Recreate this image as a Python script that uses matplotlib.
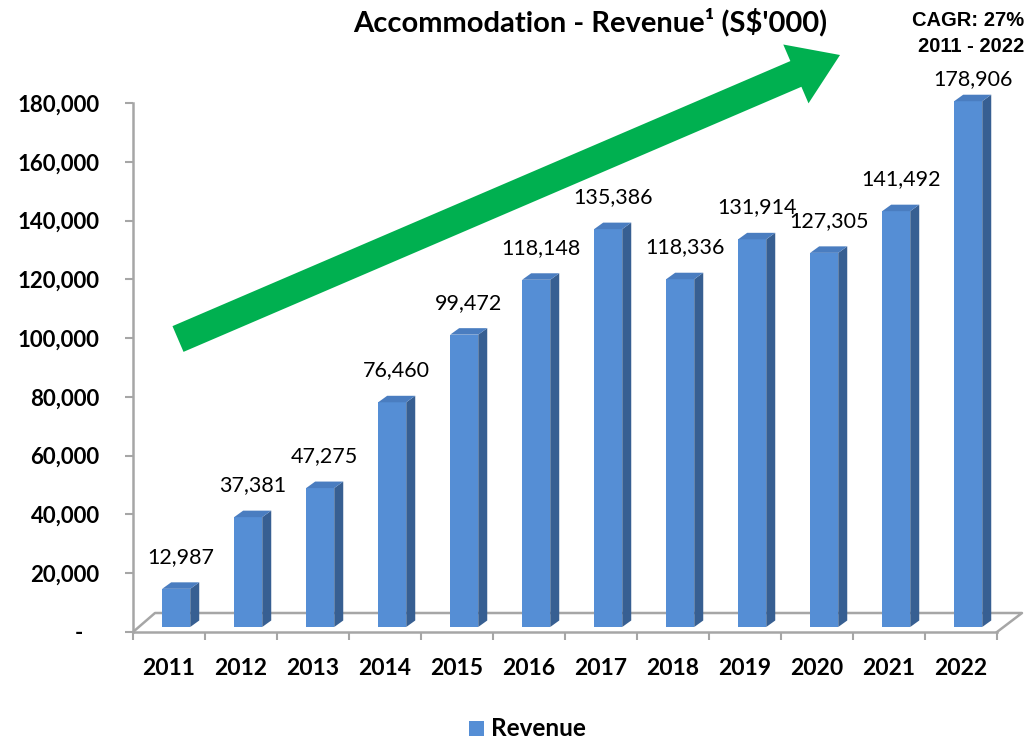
import numpy as np
import matplotlib.pyplot as plt
from matplotlib.patches import Polygon

years = ['2011', '2012', '2013', '2014', '2015', '2016',
         '2017', '2018', '2019', '2020', '2021', '2022']
revenue = [12987, 37381, 47275, 76460, 99472, 118148,
           135386, 118336, 131914, 127305, 141492, 178906]
yticks = [0, 20000, 40000, 60000, 80000, 100000, 120000, 140000, 160000, 180000]
ytick_labels = ['-   '] + ['{:,}'.format(v) for v in yticks[1:]]

plt.rcParams['font.family'] = ['Lato', 'DejaVu Sans']

W, H = 1026, 742
fig = plt.figure(figsize=(W / 100, H / 100), dpi=100)

# main axes placed in pixel terms
left, bottom, right, top = 133, 632, 1026, 103
ax = fig.add_axes([left / W, (H - bottom) / H, (right - left) / W, (bottom - top) / H])
cat_px = 72.0
ax.set_xlim(-0.5, -0.5 + (right - left) / cat_px)
ax.set_ylim(0, 180000)
ypp = 180000 / (bottom - top)  # data units per pixel

grey = '#A6A6A6'
for s in ['top', 'right']:
    ax.spines[s].set_visible(False)
ax.spines['left'].set_color(grey)
ax.spines['left'].set_linewidth(1.8)
ax.spines['bottom'].set_color(grey)
ax.spines['bottom'].set_linewidth(1.8)
ax.spines['bottom'].set_bounds(-0.5, len(years) - 0.5)

ax.set_yticks(yticks)
ax.set_yticklabels(ytick_labels, fontsize=16, fontweight='bold')
ax.tick_params(axis='y', length=6, width=1.5, color=grey, pad=18)

x = np.arange(len(years))
ax.set_xticks(x)
ax.set_xticklabels(years, fontsize=16.5, fontweight='bold')
ax.tick_params(axis='x', which='major', length=0, pad=19)
ax.set_xticks(np.arange(len(years) + 1) - 0.5, minor=True)
ax.tick_params(axis='x', which='minor', length=6, width=1.5, color=grey)

# floor
n = len(years)
back_y = 19 * ypp
bl, br = -0.5 + 22 / cat_px, n - 0.5 + 25 / cat_px
ax.plot([-0.5, bl, br, n - 0.5], [0, back_y, back_y, 0], color=grey, lw=1.8,
        clip_on=False, zorder=1)

# pseudo 3d bars
front_c = '#558ED5'
side_c = '#375F92'
top_c = '#4A7DC0'
bw = 0.39
off = 0.1
dx = 9 / cat_px
dy = 6.5 * ypp
base = 5 * ypp
for i, v in enumerate(revenue):
    x0 = i + off - bw / 2
    x1 = i + off + bw / 2
    y0, y1 = base, base + v
    ax.add_patch(Polygon([(x0, y0), (x1, y0), (x1, y1), (x0, y1)],
                         facecolor=front_c, edgecolor='none', zorder=3, clip_on=False))
    ax.add_patch(Polygon([(x1, y0), (x1 + dx, y0 + dy), (x1 + dx, y1 + dy), (x1, y1)],
                         facecolor=side_c, edgecolor='none', zorder=3, clip_on=False))
    ax.add_patch(Polygon([(x0, y1), (x1, y1), (x1 + dx, y1 + dy), (x0 + dx, y1 + dy)],
                         facecolor=top_c, edgecolor='none', zorder=3, clip_on=False))
    lift = 22 if i == n - 1 else 32
    ax.text(i + off + dx / 2, y1 + lift * ypp, '{:,}'.format(v), ha='center', va='center',
            fontsize=15.5, zorder=4, clip_on=False)

# overlay axes in pixel coords for title, arrow, legend
ov = fig.add_axes([0, 0, 1, 1])
ov.set_xlim(0, W)
ov.set_ylim(H, 0)
ov.axis('off')

ov.text(590, 22, 'Accommodation - Revenue\u00b9 (S$\'000)', ha='center', va='center',
        fontsize=21, fontweight='bold')
narrow = ['Liberation Sans', 'DejaVu Sans']
ov.text(1024, 20, 'CAGR: 27%', ha='right', va='center', fontsize=14.5,
        fontweight='bold', family=narrow)
ov.text(1024, 47, '2011 - 2022', ha='right', va='center', fontsize=14.5,
        fontweight='bold', family=narrow)

# green arrow
tail = np.array([178.0, 339.0])
tip = np.array([840.0, 55.0])
d = tip - tail
L = np.hypot(*d)
u = d / L
nrm = np.array([u[1], -u[0]])
sw, hw, hl = 14, 32, 48
hb = tip - u * hl
pts = [tail + nrm * sw, hb + nrm * sw, hb + nrm * hw, tip,
       hb - nrm * hw, hb - nrm * sw, tail - nrm * sw]
ov.add_patch(Polygon(pts, facecolor='#00B050', edgecolor='none'))

# legend
ov.add_patch(Polygon([(469, 721), (484, 721), (484, 736), (469, 736)],
                     facecolor=front_c, edgecolor='none'))
ov.text(491, 728, 'Revenue', ha='left', va='center', fontsize=17.5, fontweight='bold')

fig.savefig('out.png', dpi=100)
